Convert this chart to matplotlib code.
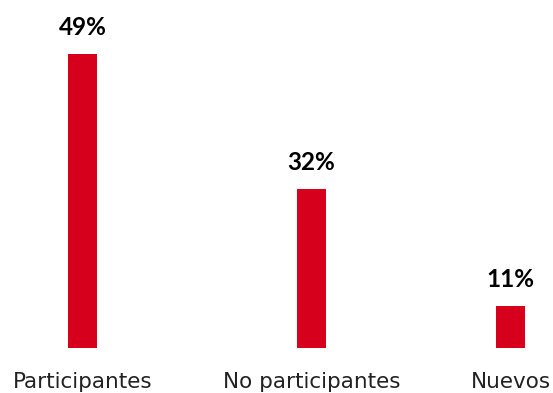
"""Bar chart: participantes / no participantes / nuevos."""
import matplotlib
matplotlib.use("Agg")
import matplotlib.pyplot as plt

RED = "#D6001C"
TXT = "#222222"

categories = ["Participantes", "No participantes", "Nuevos"]
value_labels = [49, 32, 11]
# bar lengths as drawn in the reference (same % units)
bar_heights = [49, 26.5, 7.0]
xpos = [0, 1, 1.87]

plt.rcParams["font.family"] = ["Lato", "DejaVu Sans"]

fig = plt.figure(figsize=(5.53, 3.93), dpi=100)
ax = fig.add_axes([0, 45 / 393, 1, 348 / 393])

bars = ax.bar(xpos, bar_heights, width=0.127, color=RED)
for b, v in zip(bars, value_labels):
    ax.annotate(f"{v}%", (b.get_x() + b.get_width() / 2, b.get_height()),
                xytext=(0, 11), textcoords="offset points",
                ha="center", va="bottom", fontsize=17.5, fontweight="bold", color="black")

ax.set_xlim(-0.36, 2.055)
ax.set_ylim(0, 58)
ax.set_xticks(xpos)
ax.set_xticklabels(categories, fontsize=15.5, color=TXT, family="DejaVu Sans")
ax.tick_params(axis="x", length=0, pad=17)
ax.set_yticks([])
for s in ax.spines.values():
    s.set_visible(False)

fig.savefig("out.png", dpi=100)
